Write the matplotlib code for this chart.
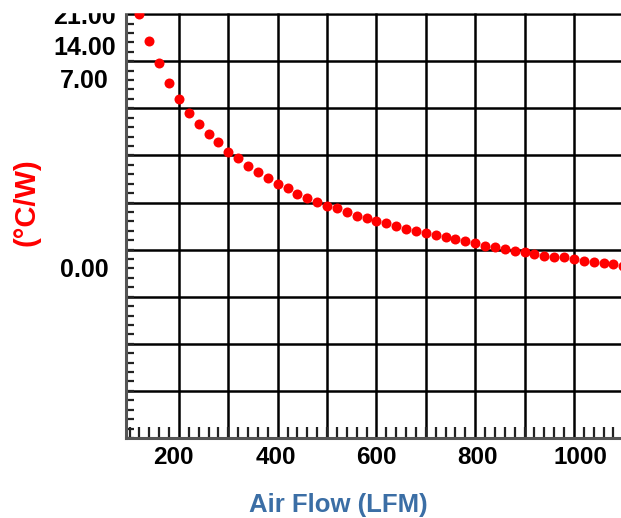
import matplotlib
matplotlib.use('Agg')
import matplotlib.pyplot as plt
from matplotlib.ticker import MultipleLocator
from matplotlib.patches import Rectangle
from matplotlib.transforms import ScaledTranslation

plt.rcParams['font.family'] = ['Liberation Sans', 'DejaVu Sans']

# air flow (LFM) and dot heights, heights in grid units (one unit = one horizontal gridline)
air_flow = [120, 140, 160, 180, 200, 220, 240, 260, 280, 300,
            320, 340, 360, 380, 400, 420, 440, 460, 480, 500,
            520, 540, 560, 580, 600, 620, 640, 660, 680, 700,
            720, 740, 760, 780, 800, 820, 840, 860, 880, 900,
            920, 940, 960, 980, 1000, 1020, 1040, 1060, 1080, 1100]
resistance = [9.00, 8.43, 7.96, 7.54, 7.20, 6.90, 6.67, 6.45, 6.28, 6.07,
              5.94, 5.77, 5.65, 5.52, 5.39, 5.31, 5.18, 5.10, 5.01, 4.93,
              4.88, 4.80, 4.71, 4.67, 4.61, 4.56, 4.50, 4.44, 4.39, 4.35,
              4.31, 4.27, 4.23, 4.18, 4.14, 4.08, 4.06, 4.01, 3.97, 3.95,
              3.91, 3.86, 3.84, 3.84, 3.80, 3.76, 3.74, 3.72, 3.69, 3.65]

x_grid = [200, 300, 400, 500, 600, 700, 800, 900, 1000]
x_labels = [200, 400, 600, 800, 1000]
y_grid = [1, 2, 3, 4, 5, 6, 7, 8, 9]
y_label_pos = [9.0, 8.33, 7.64, 3.63]
y_labels = ['21.00', '14.00', '7.00', '0.00']

fig = plt.figure(figsize=(6.21, 5.18), dpi=100)
ax = fig.add_axes([126/621, 80/518, 495/621, 426/518])

for x in x_grid:
    ax.axvline(x, color='black', lw=1.8, zorder=1)
for y in y_grid:
    ax.axhline(y, color='black', lw=1.8, zorder=1)

ax.plot(air_flow, resistance, 'o', color='#ff0000', ms=7.2, mec='none', zorder=3)

ax.set_xlim(92.7, 1095.2)
ax.set_ylim(0, 9.045)

ax.set_xticks(x_labels)
ax.set_xticklabels([str(v) for v in x_labels])
ax.xaxis.set_minor_locator(MultipleLocator(20))
ax.set_yticks(y_label_pos)
ax.set_yticklabels(y_labels)
ax.yaxis.set_minor_locator(MultipleLocator(0.2))

ax.tick_params(axis='x', which='major', length=0, pad=6, labelsize=17.5)
ax.tick_params(axis='y', which='major', length=0, pad=30, labelsize=18)
ax.tick_params(which='minor', direction='in', color='#222222', width=1.6)
ax.tick_params(axis='x', which='minor', length=8)
ax.tick_params(axis='y', which='minor', length=6)
for lab in ax.get_xticklabels() + ax.get_yticklabels():
    lab.set_fontweight('bold')
for lab in ax.get_yticklabels():
    lab.set_ha('center')

# x labels in the original are spread a little wider than the grid
for lab, dx in zip(ax.get_xticklabels(), [-5.5, -2, 0, 2, 6.5]):
    lab.set_transform(lab.get_transform() + ScaledTranslation(dx / 100, 0, fig.dpi_scale_trans))

for s in ['top', 'right']:
    ax.spines[s].set_visible(False)
for s in ['left', 'bottom']:
    ax.spines[s].set_color('#555555')
    ax.spines[s].set_linewidth(2.2)

fig.text(338/621, 1 - 505/518, 'Air Flow (LFM)', color='#3b6ea5', fontsize=18.5,
         fontweight='bold', ha='center', va='center')
fig.text(26/621, 1 - 202/518, '(°C/W)', color='#ff0000', fontsize=21,
         fontweight='bold', rotation=90, ha='center', va='center')

# the top strip of the original is blanked out, cutting the top label
fig.add_artist(Rectangle((0, 506/518), 1, 12/518, transform=fig.transFigure,
                         color='white', zorder=10))

fig.savefig('out.png', dpi=100)
